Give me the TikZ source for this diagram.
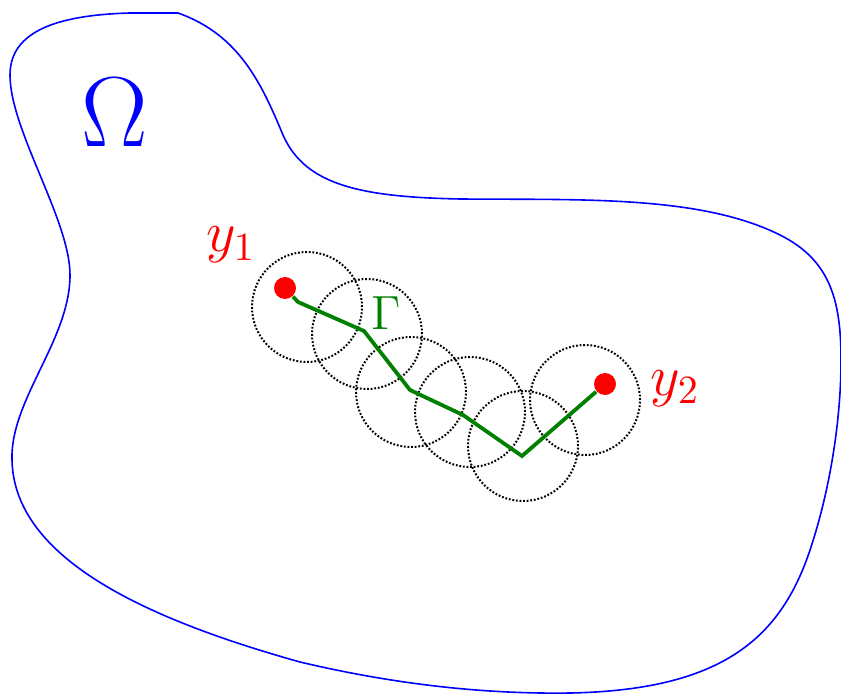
\documentclass[tikz,border=0pt]{standalone}
\begin{document}
\begin{tikzpicture}[x=0.25pt,y=-0.25pt]
            \useasboundingbox (0,0) rectangle (841,693);

            % the domain
            \draw[blue] (178,13) .. controls (240,35) and (262,85) .. (283,135)
                .. controls (305,185) and (360,197) .. (460,199)
                .. controls (580,200) and (700,195) .. (780,235)
                .. controls (830,260) and (841,300) .. (841,360)
                .. controls (841,420) and (830,490) .. (810,550)
                .. controls (780,640) and (720,690) .. (570,693)
                .. controls (500,694) and (410,688) .. (300,662)
                .. controls (150,620) and (14,560) .. (12,460)
                .. controls (10,400) and (70,340) .. (70,275)
                .. controls (70,220) and (10,130) .. (10,75)
                .. controls (10,30) and (60,15) .. (130,13) -- cycle;
            \node[blue, font=\fontsize{30}{34}\selectfont, anchor=base] (omega) at (115,147) {$\Omega$};

            % covering balls
            \foreach \x/\y in {307/307, 367/334, 411/392, 470/412, 523/446, 585/400} {
                    \draw[line width=0.5pt, dash pattern=on 0.45pt off 0.45pt] (\x,\y) circle (13.75pt);
                }

            % end points and the path between them
            \node[circle, fill=red, inner sep=0pt, minimum size=5.5pt] (y1) at (285,288) {};
            \node[circle, fill=red, inner sep=0pt, minimum size=5.5pt] (y2) at (605,384) {};
            \draw[green!50!black, line width=0.95pt] (y1) -- (298,302) -- (364,331) -- (410,390)
                -- (463,415) -- (522,456) -- (y2);

            \node[red, font=\Large, anchor=base] (l1) at (231,252) {$y_1$};
            \node[red, font=\Large, anchor=base] (l2) at (675,395) {$y_2$};
            \node[green!50!black, font=\large, anchor=base] (gamma) at (386,330) {$\Gamma$};
        \end{tikzpicture}
\end{document}
